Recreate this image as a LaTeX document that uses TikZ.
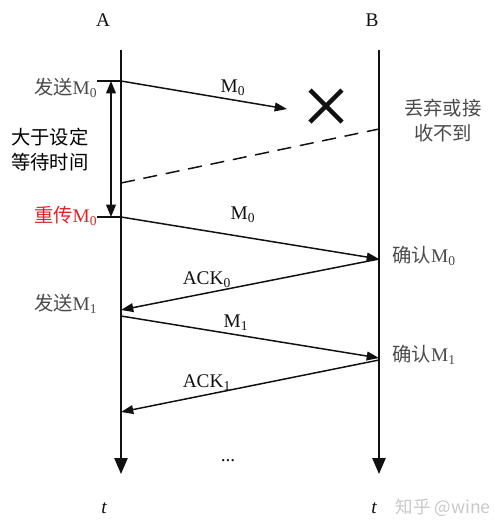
\documentclass[tikz,border=0pt]{standalone}
\usepackage{fontspec}
\setmainfont{Liberation Serif}
\newfontfamily\cjk{Noto Sans CJK SC}
\usetikzlibrary{positioning,arrows.meta}
\definecolor{ink}{HTML}{111111}
\definecolor{muted}{HTML}{4A4A4A}
\definecolor{accent}{HTML}{D9262B}
\definecolor{faint}{HTML}{C8C8C8}

\begin{document}
\begin{tikzpicture}[x=0.02cm, y=-0.02cm, line width=0.85pt, ink,
    lane/.style={-{Triangle[length=9pt,width=7.5pt]}},
    msg/.style={-{Triangle[length=7pt,width=5pt]}},
    span/.style={{Triangle[length=7pt,width=5.5pt]}-{Triangle[length=7pt,width=5.5pt]}},
    evt/.style={font=\fontsize{11}{13}\selectfont, muted, anchor=east, inner sep=1pt},
    lbl/.style={font=\fontsize{11}{13}\selectfont, inner sep=1pt},
    note/.style={font=\fontsize{11}{14.2}\selectfont\cjk, align=center, inner sep=0pt}]
  \useasboundingbox (0,0) rectangle (494,529);

  % time lines
  \coordinate (atop) at (121,50);
  \coordinate (abot) at (121,474);
  \coordinate (btop) at (379,50);
  \coordinate (bbot) at (379,474);
  \draw[lane] (atop) -- (abot);
  \draw[lane] (btop) -- (bbot);
  \node[lbl] (namea) at (103,20) {A};
  \node[lbl] (nameb) at (372,20) {B};
  \node[lbl, font=\fontsize{11}{13}\selectfont\itshape] (ta) at (104,508) {t};
  \node[lbl, font=\fontsize{11}{13}\selectfont\itshape] (tb) at (374,508) {t};
  \node[lbl] (more) at (228,461) {...};

  % events on A
  \coordinate (send0) at (121,81);
  \coordinate (resend0) at (121,217);
  \coordinate (tick0) at (97,81);
  \coordinate (tick1) at (97,217);
  \coordinate (send1) at (121,316);
  \node[evt] (lsend0) at (100,88) {{\cjk 发送}M\textsubscript{0}};
  \node[evt, accent] (lresend0) at (100,216) {{\cjk 重传}M\textsubscript{0}};
  \node[evt] (lsend1) at (100,304) {{\cjk 发送}M\textsubscript{1}};
  \draw[line width=0.7pt] (tick0) -- (send0);
  \draw[line width=0.7pt] (tick1) -- (resend0);
  \draw[span] (111,81) -- (111,217);
  \node[note, black] (wait) at (50,150) {大于设定\\等待时间};

  % lost frame
  \coordinate (lost) at (287,109);
  \draw[msg] (send0) -- (lost);
  \node[lbl] (m0a) at (233,88) {M\textsubscript{0}};
  \draw[line width=2.6pt] (310,90) -- (342,122) (342,90) -- (310,122);
  \coordinate (tout0) at (121,183);
  \coordinate (tout1) at (379,129);
  \draw[dashed, dash pattern=on 8pt off 5pt] (tout0) -- (tout1);
  \node[note, muted] (drop) at (443,121) {丢弃或接\\收不到};

  % events on B
  \coordinate (ack0) at (379,259);
  \coordinate (ack1) at (379,358);
  \node[evt, anchor=west] (lack0) at (390,256) {{\cjk 确认}M\textsubscript{0}};
  \node[evt, anchor=west] (lack1) at (390,355) {{\cjk 确认}M\textsubscript{1}};

  % exchange
  \coordinate (got0) at (121,310);
  \coordinate (got1) at (121,412);
  \draw[msg] (resend0) -- (ack0);
  \node[lbl] (m0b) at (243,215) {M\textsubscript{0}};
  \draw[msg] (ack0) -- (got0);
  \node[lbl] (k0) at (207,280) {ACK\textsubscript{0}};
  \draw[msg] (send1) -- (ack1);
  \node[lbl] (m1) at (236,323) {M\textsubscript{1}};
  \draw[msg] (379,360) -- (got1);
  \node[lbl] (k1) at (207,383) {ACK\textsubscript{1}};

  \node[font=\fontsize{10}{12}\selectfont\cjk, faint] (mark) at (443,508) {知乎 @wine};
\end{tikzpicture}
\end{document}
